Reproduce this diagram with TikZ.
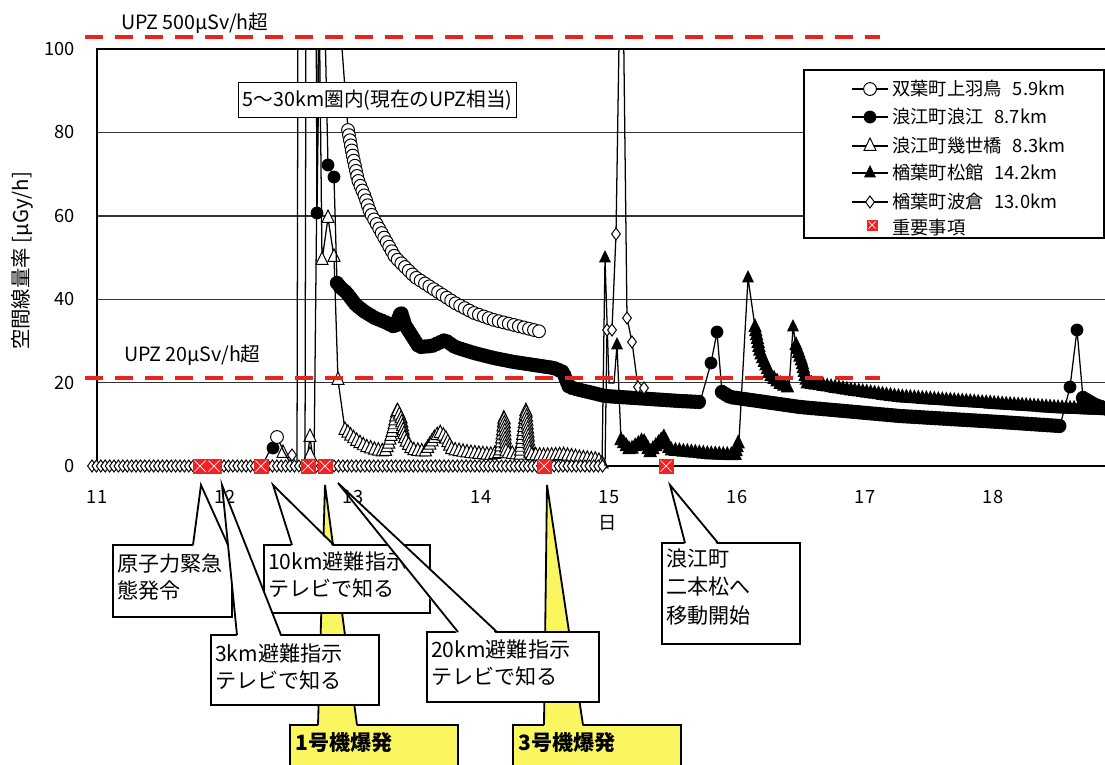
\documentclass[tikz,border=0pt]{standalone}
\usepackage{fontspec}
\setmainfont{Noto Sans CJK JP}
\usetikzlibrary{decorations.markings}

\definecolor{upzred}{RGB}{232,36,30}
\definecolor{evred}{RGB}{242,34,34}
\definecolor{boomyellow}{RGB}{250,246,96}

\tikzstyle{gridline} = [line width=1pt, black!80]
\tikzstyle{plotframe} = [line width=1.3pt]
\tikzstyle{series} = [line width=0.9pt]
\tikzstyle{upz} = [upzred, line width=2.3pt, dash pattern=on 0.45cm off 0.3cm]
\tikzstyle{ticklab} = [inner sep=0pt, font=\fontsize{13}{15}\selectfont]
\tikzstyle{legtext} = [anchor=west, inner sep=0pt, font=\fontsize{13}{15}\selectfont]
\tikzstyle{calltext} = [anchor=west, align=left, inner sep=0pt, font=\fontsize{15}{19.5}\selectfont]

% dense runs of markers along a series
\tikzset{
  ocrun/.style={postaction={decorate, decoration={markings,
    mark=between positions 0 and 1 step #1 with {\pgftransformresetnontranslations
      \draw[fill=white, line width=0.7pt] (0,0) circle (0.16cm);}}}},
  fcrun/.style={postaction={decorate, decoration={markings,
    mark=between positions 0 and 1 step #1 with {\pgftransformresetnontranslations
      \fill (0,0) circle (0.18cm);}}}},
  otrun/.style={postaction={decorate, decoration={markings,
    mark=between positions 0 and 1 step #1 with {\pgftransformresetnontranslations
      \draw[fill=white, line width=0.7pt] (0cm,0.2cm) -- (0.15cm,-0.11cm) -- (-0.15cm,-0.11cm) -- cycle;}}}},
  ftrun/.style={postaction={decorate, decoration={markings,
    mark=between positions 0 and 1 step #1 with {\pgftransformresetnontranslations
      \fill (0cm,0.22cm) -- (0.17cm,-0.13cm) -- (-0.17cm,-0.13cm) -- cycle;}}}},
  dmrun/.style={postaction={decorate, decoration={markings,
    mark=between positions 0 and 1 step #1 with {\pgftransformresetnontranslations
      \draw[fill=white, line width=0.7pt] (0cm,0.15cm) -- (0.11cm,0cm) -- (0cm,-0.15cm) -- (-0.11cm,0cm) -- cycle;}}}}
}

% single markers
\newcommand{\mkoc}[2]{\draw[fill=white, line width=0.7pt] (#1,#2) circle (0.16cm);}
\newcommand{\mkfc}[2]{\fill (#1,#2) circle (0.16cm);}
\newcommand{\mkot}[2]{\draw[fill=white, line width=0.7pt, shift={(#1,#2)}] (0cm,0.2cm) -- (0.15cm,-0.11cm) -- (-0.15cm,-0.11cm) -- cycle;}
\newcommand{\mkft}[2]{\fill[shift={(#1,#2)}] (0cm,0.2cm) -- (0.15cm,-0.11cm) -- (-0.15cm,-0.11cm) -- cycle;}
\newcommand{\mkdm}[2]{\draw[fill=white, line width=0.7pt, shift={(#1,#2)}] (0cm,0.15cm) -- (0.11cm,0cm) -- (0cm,-0.15cm) -- (-0.11cm,0cm) -- cycle;}
\newcommand{\mkev}[3]{\fill[evred] (#1,#2) ++(-#3,-#3) rectangle ++(2*#3,2*#3);
  \draw[white, line width=0.5pt] (#1,#2) ++(-#3+2,-#3+2) -- ++(2*#3-4,2*#3-4) (#1,#2) ++(-#3+2,#3-2) -- ++(2*#3-4,-2*#3+4);}
% box with a pointer: left, top, right, bottom, tip, pointer base from/to, fill
\newcommand{\calloutbox}[8]{\filldraw[fill=#8, line width=1.3pt] (#1,#2) rectangle (#3,#4);
  \fill[#8] (#6,#2+2.5) -- #5 -- (#7,#2+2.5) -- cycle;
  \draw[line width=1.3pt] (#6,#2) -- #5 -- (#7,#2);}

\begin{document}
\begin{tikzpicture}[x=0.025cm, y=-0.025cm]
\clip (0,0) rectangle (1105,764);
\fill[white] (0,0) rectangle (1105,764);

% grid and frame
\foreach \v in {20,40,60,80}
  \draw[gridline] (97,{466-4.17*\v}) -- (1105,{466-4.17*\v});
\draw[plotframe] (1105,49) -- (97,49) -- (97,466) -- (1105,466);

% axis labels
\foreach \v in {0,20,...,100}
  \node[ticklab, anchor=east] (y\v) at (75,{466-4.17*\v}) {\v};
\foreach \d [count=\i from 0] in {11,...,18}
  \node[ticklab] (x\d) at ({97+128*\i},497) {\d};
\node[ticklab] (day) at (608,523) {日};
\node[rotate=90, font=\fontsize{14.5}{16}\selectfont] (ylab) at (22,261) {空間線量率 [μGy/h]};

% measured series
\begin{scope}
\clip (85,49) rectangle (1105,482);
% 浪江町幾世橋
\draw[series] (306,466) -- (310,437) -- (314,466) -- (319,-20) -- (322,260) -- (328,218) -- (334,257) -- (338,380) -- (345,430);
\draw[series, otrun=0.1cm] (345,430) -- (352,437) -- (358,442) -- (366,447) -- (375,450) -- (385,452) -- (389,443) -- (394,425) -- (397,410) -- (401,418) -- (405,440) -- (412,450) -- (425,452) -- (435,437) -- (440,433) -- (445,437) -- (452,450) -- (470,453) -- (490,455) -- (500,453) -- (504,417) -- (506,453) -- (520,455) -- (526,410) -- (530,455) -- (545,456) -- (563,455) -- (580,458) -- (598,460) -- (605,466);
\foreach \x/\y in {310/437, 310/455, 283/453, 322/260, 328/218, 334/257, 338/380}
  {\mkot{\x}{\y}}
% 楢葉町松館
\draw[series] (602,466) -- (605,258) -- (609,383) -- (614,383) -- (617,345) -- (621,440);
\draw[series, ftrun=0.1cm] (621,440) -- (630,450) -- (643,440) -- (650,452) -- (664,437) -- (670,450) -- (690,452) -- (710,454) -- (735,455) -- (739,440);
\draw[series] (739,440) -- (748,278) -- (755,327);
\draw[series, ftrun=0.1cm] (755,327) -- (760,352) -- (765,363) -- (770,375) -- (779,383) -- (789,388);
\draw[series] (789,388) -- (793,327) -- (796,345);
\draw[series, ftrun=0.1cm] (796,345) -- (802,362) -- (807,383) -- (850,390) -- (900,397) -- (1000,404) -- (1060,408) -- (1110,410);
\foreach \x/\y in {605/258, 617/345, 748/278, 793/327}
  {\mkft{\x}{\y}}
% 浪江町浪江
\draw[series] (305,466) -- (306,-20);
\draw[series] (316,-20) -- (317,213) -- (320,-20);
\draw[series] (324,-20) -- (328,165) -- (334,177) -- (337,283);
\draw[series, fcrun=0.1cm] (337,283) -- (341,288) -- (346,292) -- (356,305) -- (365,312) -- (375,318) -- (385,322) -- (395,327) -- (401,312) -- (405,325) -- (419,347) -- (432,346) -- (445,340) -- (455,347) -- (474,353) -- (494,358) -- (514,362) -- (534,365) -- (554,368) -- (563,372) -- (569,387) -- (580,390) -- (593,393) -- (605,396) -- (620,397) -- (650,399) -- (680,401) -- (700,402);
\draw[series] (700,402) -- (711,363) -- (717,332) -- (722,392);
\draw[series, fcrun=0.1cm] (722,392) -- (730,397) -- (800,407) -- (900,416) -- (1000,422) -- (1060,426);
\draw[series] (1060,426) -- (1070,387) -- (1077,330) -- (1083,398);
\draw[series, fcrun=0.1cm] (1083,398) -- (1095,405) -- (1110,410);
\foreach \x/\y in {273/448, 317/213, 328/165, 334/177, 711/363, 717/332, 1070/387, 1077/330}
  {\mkfc{\x}{\y}}
% 双葉町上羽鳥
\draw[series] (262,466) -- (270,450) -- (277,437) -- (284,452) -- (292,466) -- (297,466) -- (298,-20);
\draw[series] (337,-20) -- (348,130);
\draw[series, ocrun=0.13cm] (348,130) -- (353,157) -- (358,180) -- (365,197) -- (370,212) -- (380,230) -- (395,257) -- (415,277) -- (435,290) -- (455,303) -- (474,313) -- (494,320) -- (514,325) -- (542,332);
\mkoc{277}{437}
% 楢葉町波倉
\draw[series, dmrun=0.11cm] (92,466) -- (605,466);
\draw[series] (605,466) -- (607,330) -- (612,330) -- (616,234) -- (620,-20);
\draw[series] (623,-20) -- (627,318) -- (632,342) -- (638,387) -- (644,388);
\foreach \x/\y in {292/455, 607/330, 612/330, 616/234, 627/318, 632/342, 638/387, 644/388}
  {\mkdm{\x}{\y}}
\end{scope}

% zone label and UPZ levels
\node[draw, fill=white, line width=1pt, anchor=west, inner xsep=3pt, minimum height=0.875cm,
  font=\fontsize{14}{16}\selectfont] (zone) at (238,100) {5〜30km圏内(現在のUPZ相当)};
\draw[upz] (85,37) -- (880,37);
\draw[upz] (85,378) -- (880,378);
\node[anchor=west, inner sep=0pt, font=\fontsize{14}{15}\selectfont] (upzhi) at (121,23) {UPZ 500μSv/h超};
\node[anchor=west, inner sep=0pt, font=\fontsize{14}{15}\selectfont] (upzlo) at (124,355) {UPZ 20μSv/h超};

% legend
\draw[fill=white, line width=1.2pt] (804,70) rectangle (1104,238);
\foreach \y in {89,117,146,173,202}
  \draw[series] (852,\y) -- (888,\y);
\mkoc{870}{89}
\mkfc{870}{117}
\mkot{870}{146}
\mkft{870}{173}
\mkdm{870}{202}
\mkev{872}{225}{5.5}
\node[legtext] (leg1) at (892,89) {双葉町上羽鳥\hspace{0.6em}5.9km};
\node[legtext] (leg2) at (892,117) {浪江町浪江\hspace{0.6em}8.7km};
\node[legtext] (leg3) at (892,146) {浪江町幾世橋\hspace{0.6em}8.3km};
\node[legtext] (leg4) at (892,173) {楢葉町松館\hspace{0.6em}14.2km};
\node[legtext] (leg5) at (892,202) {楢葉町波倉\hspace{0.6em}13.0km};
\node[legtext] (leg6) at (892,228) {重要事項};

% important events on the time axis
\foreach \x in {200,214,261,308,325,544,666}
  {\mkev{\x}{466}{7.5}}

% callouts
\calloutbox{290}{725}{458}{800}{(325,485)}{318}{357}{boomyellow}
\node[calltext, font=\fontsize{15}{19.5}\selectfont\bfseries] (boom1) at (295,743) {1号機爆発};
\calloutbox{513}{725}{681}{800}{(547,485)}{544}{583}{boomyellow}
\node[calltext, font=\fontsize{15}{19.5}\selectfont\bfseries] (boom3) at (518,743) {3号機爆発};
\calloutbox{113}{545}{232}{617}{(201,485)}{193}{228}{white}
\node[calltext] (alert) at (117,577) {原子力緊急\\態発令};
\calloutbox{264}{545}{430}{613}{(273,485)}{292}{334}{white}
\node[calltext] (evac10) at (268,575) {10km避難指示\\テレビで知る};
\calloutbox{211}{635}{379}{705}{(222,485)}{237}{281}{white}
\node[calltext] (evac3) at (215,667) {3km避難指示\\テレビで知る};
\calloutbox{427}{632}{599}{702}{(338,483)}{458}{497}{white}
\node[calltext] (evac20) at (431,663) {20km避難指示\\テレビで知る};
\calloutbox{662}{543}{800}{644}{(670,485)}{685}{718}{white}
\node[calltext, font=\fontsize{15}{20.5}\selectfont] (namie) at (666,587) {浪江町\\二本松へ\\移動開始};
\end{tikzpicture}
\end{document}
